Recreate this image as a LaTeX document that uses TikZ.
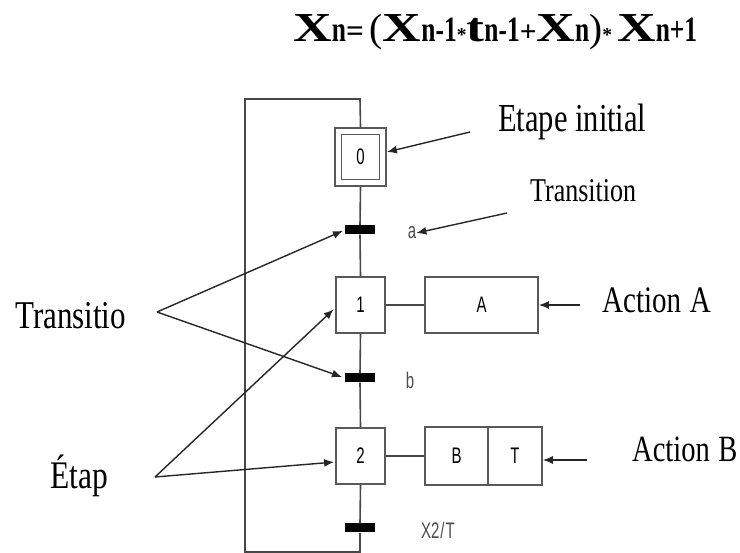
\documentclass[tikz,border=0pt]{standalone}
\usepackage{fontspec}
\setmainfont{Liberation Serif}
\newfontfamily\lsans{Liberation Sans}
\usepackage{graphicx}
\usetikzlibrary{arrows.meta,calc}
\newcommand{\BigL}[1]{\scalebox{1.3}[1]{\fontsize{42}{42}\selectfont\bfseries #1}}
\newcommand{\SubL}[1]{\scalebox{1}[1.4]{\fontsize{26}{26}\selectfont\bfseries #1}}
\newcommand{\Lbl}[3]{\scalebox{1}[#2]{\fontsize{#1}{#1}\selectfont #3}}
\newcommand{\Smt}[1]{\scalebox{1}[1.5]{\lsans\fontsize{15}{15}\selectfont #1}}
\newcommand{\Ast}{{\fontsize{20}{20}\selectfont\bfseries *}}
\begin{document}
\begin{tikzpicture}[x=1pt,y=-1pt,
  chain/.style={draw=black!72,line width=1.6pt},
  box/.style={draw=black!65,line width=1.8pt,fill=white,inner sep=0pt},
  bar/.style={fill=black,draw=none,minimum width=30pt,minimum height=9pt,inner sep=0pt},
  small/.style={text=black!70,inner sep=0pt},
  lbl/.style={anchor=base west,inner sep=0pt,text=black},
  arr/.style={draw=black!85,line width=1.4pt,-{Latex[length=10pt,width=8pt]}}]
\useasboundingbox (0,0) rectangle (740,553);
% title
\node[lbl] (title) at (293,42) {\resizebox{404pt}{!}{\BigL{X}\SubL{n}{\fontsize{32}{32}\selectfont\bfseries=}\hspace{6pt}{\fontsize{40}{40}\selectfont(}\BigL{X}\SubL{n-1}\Ast\BigL{t}\SubL{n-1}{\fontsize{30}{30}\selectfont\bfseries+}\BigL{X}\SubL{n}{\fontsize{40}{40}\selectfont)}\Ast\hspace{5pt}\BigL{X}\SubL{n+1}}};
% loop coordinates
\coordinate (tr) at (360,99);
\coordinate (tl) at (245,99);
\coordinate (bl) at (245,552);
\coordinate (br) at (360,552);
\coordinate (bend) at (360,553);
% steps
\node[box,minimum width=51pt,minimum height=58pt] (s0) at (360.5,157) {};
\node[box,minimum width=38pt,minimum height=45pt] (s0in) at (360.5,157) {\Smt{0}};
\node[box,minimum width=49pt,minimum height=56pt] (s1) at (360.5,305) {\Smt{1}};
\node[box,minimum width=49pt,minimum height=56pt] (s2) at (360.5,456) {\Smt{2}};
\node[bar] (ta) at (360,230) {};
\node[bar] (tb) at (360,378) {};
\node[bar] (tc) at (360,528) {};
% chain lines
\draw[chain] (s0.north) -- (tr) -- (tl) -- (bl) -- (br);
\draw[chain] (s0.south) -- (ta.north);
\draw[chain] (ta.south) -- (s1.north);
\draw[chain] (s1.south) -- (tb.north);
\draw[chain] (tb.south) -- (s2.north);
\draw[chain] (s2.south) -- (tc.north);
\draw[chain] (tc.south) -- (bend);
% actions
\node[box,minimum width=113pt,minimum height=56pt] (actA) at (481.5,305) {\Smt{A}};
\node[box,minimum width=63pt,minimum height=58pt] (actB1) at (456.5,456) {\Smt{B}};
\node[box,minimum width=54pt,minimum height=58pt] (actB2) at (515,456) {\Smt{T}};
\draw[chain] (s1.east) -- (actA.west);
\draw[chain] (s2.east) -- (actB1.west);
% transition labels
\node[small] (la) at (412,233) {\Smt{a}};
\node[small] (lb) at (410,380) {\Smt{b}};
\node[small] (lc) at (438,530) {\Smt{X2\hspace{1pt}/\hspace{1pt}T}};
% annotation texts
\node[lbl] (tEI) at (498,131.7) {\Lbl{30.5}{1.3}{Etape initial}};
\node[lbl] (tTr) at (530,201.7) {\Lbl{26}{1.28}{Transition}};
\node[lbl] (tTo) at (15,329) {\Lbl{31}{1.27}{Transitio}};
\node[lbl] (tEt) at (50,489) {\Lbl{31.5}{1.24}{Étap}};
\node[lbl] (tAA) at (602,313) {\Lbl{29}{1.29}{Action\hspace{0.3em}A}};
\node[lbl] (tAB) at (632,461.7) {\Lbl{28.5}{1.3}{Action\hspace{0.3em}B}};
% arrows
\coordinate (eiS) at (470,132);
\coordinate (trS) at (507,213);
\coordinate (toS) at (157,312);
\coordinate (etS) at (155,477);
\coordinate (aaS) at (580,305);
\coordinate (abS) at (587,460);
\draw[arr] (eiS) -- ($(s0.east)+(0,-5)$);
\draw[arr] (trS) -- (la.east);
\draw[arr,shorten >=2pt] (toS) -- (ta.west);
\draw[arr,shorten >=3pt] (toS) -- (tb.west);
\draw[arr,shorten >=2pt] (etS) -- ($(s1.west)+(0,3)$);
\draw[arr,shorten >=1pt] (etS) -- ($(s2.west)+(0,6)$);
\draw[arr] (aaS) -- (actA.east);
\draw[arr] (abS) -- ($(actB2.east)+(0,4)$);
\end{tikzpicture}
\end{document}
